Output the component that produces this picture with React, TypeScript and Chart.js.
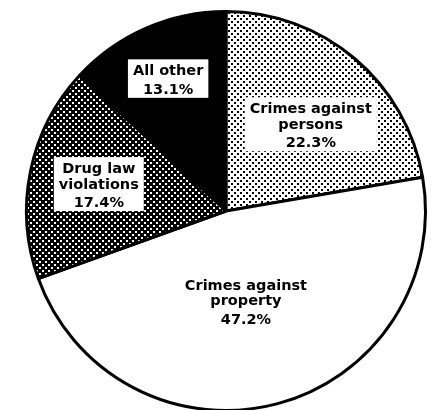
import React, { useEffect, useRef } from "react";
import { Chart, registerables } from "chart.js";

Chart.register(...registerables);

const categories = [
  "Crimes against persons",
  "Crimes against property",
  "Drug law violations",
  "All other",
];
const labelLines = [
  ["Crimes against", "persons"],
  ["Crimes against", "property"],
  ["Drug law", "violations"],
  ["All other"],
];
const shares = [22.3, 47.2, 17.4, 13.1];

function makePattern(bg: string, fg: string): CanvasPattern | string {
  const c = document.createElement("canvas");
  c.width = 6;
  c.height = 6;
  const x = c.getContext("2d");
  if (!x) return bg;
  x.fillStyle = bg;
  x.fillRect(0, 0, 6, 6);
  x.fillStyle = fg;
  x.fillRect(0, 0, 2, 2);
  x.fillRect(3, 3, 2, 2);
  const p = x.createPattern(c, "repeat");
  return p || bg;
}

// label layout (offsets from pie centre, in px at radius 200)
const labelOffsets = [
  [85, -98],
  [20, 79],
  [-127.5, -38],
  [-58, -136],
];
const labelBoxed = [true, false, true, true];

const labelPlugin = {
  id: "pieLabels",
  afterDatasetsDraw(chart: any) {
    const meta = chart.getDatasetMeta(0);
    const arc = meta.data[0];
    if (!arc) return;
    const { x: cx, y: cy, outerRadius } = arc.getProps(["x", "y", "outerRadius"], true);
    const k = outerRadius / 200;
    const ctx = chart.ctx as CanvasRenderingContext2D;
    ctx.save();
    ctx.font = 'bold 14.5px "DejaVu Sans", sans-serif';
    ctx.textAlign = "center";
    ctx.textBaseline = "alphabetic";
    const values = chart.data.datasets[0].data as number[];
    values.forEach((v, i) => {
      const lines = [...labelLines[i], v.toFixed(1) + "%"];
      const tx = cx + labelOffsets[i][0] * k;
      const b1 = cy + labelOffsets[i][1] * k;
      const baselines: number[] = [];
      let b = b1;
      lines.forEach((_, j) => {
        if (j > 0) b += j === lines.length - 1 ? 18.5 : 15.5;
        baselines.push(b);
      });
      if (labelBoxed[i]) {
        const w = Math.max(...lines.map((l) => ctx.measureText(l).width));
        ctx.fillStyle = "#ffffff";
        ctx.fillRect(
          tx - w / 2 - 5,
          b1 - 16,
          w + 10,
          baselines[baselines.length - 1] - b1 + 20
        );
      }
      ctx.fillStyle = "#000000";
      lines.forEach((l, j) => ctx.fillText(l, tx, baselines[j]));
    });
    ctx.restore();
  },
};

export default function App() {
  const ref = useRef<HTMLCanvasElement | null>(null);

  useEffect(() => {
    if (!ref.current) return;
    const fills = [
      makePattern("#ffffff", "#000000"),
      "#ffffff",
      makePattern("#000000", "#ffffff"),
      "#000000",
    ];
    const chart = new Chart(ref.current, {
      type: "pie",
      data: {
        labels: categories,
        datasets: [
          {
            data: shares,
            backgroundColor: fills as any,
            borderColor: "#000000",
            borderWidth: 3,
          },
        ],
      },
      options: {
        responsive: false,
        animation: false,
        radius: 199.5,
        layout: { padding: 0 },
        plugins: {
          legend: { display: false },
          tooltip: { enabled: false },
        },
      } as any,
      plugins: [labelPlugin],
    });
    return () => chart.destroy();
  }, []);

  return (
    <div
      style={{
        position: "fixed",
        left: 0,
        top: 0,
        width: 431,
        height: 410,
        overflow: "hidden",
        background: "#ffffff",
      }}
    >
      <canvas
        ref={ref}
        width={452}
        height={422}
        style={{ position: "absolute", left: 0, top: 0, width: 452, height: 422 }}
      />
    </div>
  );
}
